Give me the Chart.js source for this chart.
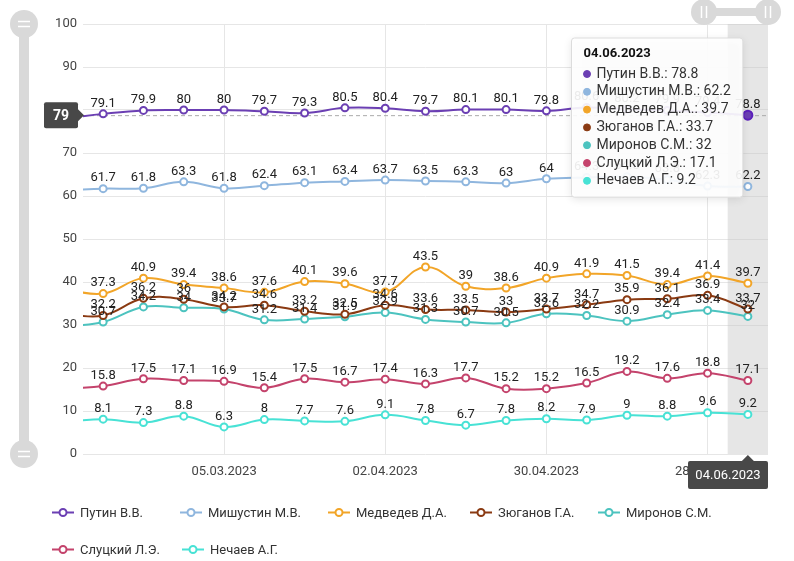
<!DOCTYPE html>
<html>
<head>
<meta charset="utf-8">
<script src="https://cdn.jsdelivr.net/npm/chart.js@4.4.0/dist/chart.umd.min.js"></script>
<style>
  body { margin: 0; background: #fff; font-family: Roboto, sans-serif; }
  #wrap { position: relative; width: 794px; height: 561px; }
  #legend { position: absolute; left: 0; top: 0; width: 794px; height: 561px; pointer-events: none; font-size: 13px; color: #333; }
  .item { position: absolute; display: flex; align-items: center; white-space: nowrap; transform: translateY(-50%); }
  .item svg { margin-right: 6px; }
</style>
</head>
<body>
<div id="wrap">
  <canvas id="chart" width="794" height="561"></canvas>
  <div id="legend"></div>
</div>
<script>
// weekly dates, first one is only partly in view (chart is zoomed)
const dates = ['05.02.2023', '12.02.2023', '19.02.2023', '26.02.2023', '05.03.2023', '12.03.2023',
  '19.03.2023', '26.03.2023', '02.04.2023', '09.04.2023', '16.04.2023', '23.04.2023', '30.04.2023',
  '07.05.2023', '14.05.2023', '21.05.2023', '28.05.2023', '04.06.2023'];
const tickDates = ['05.03.2023', '02.04.2023', '30.04.2023', '28.05.2023'];

const names = ['Путин В.В.', 'Мишустин М.В.', 'Медведев Д.А.', 'Зюганов Г.А.', 'Миронов С.М.', 'Слуцкий Л.Э.', 'Нечаев А.Г.'];
const colors = ['#6b3fb3', '#8fb6de', '#f2a528', '#8a3a12', '#4cc3bf', '#c4436c', '#48e2d5'];

const putin     = [78.0, 79.1, 79.9, 80, 80, 79.7, 79.3, 80.5, 80.4, 79.7, 80.1, 80.1, 79.8, 80.6, 80.2, 79.9, 79.4, 78.8];
const mishustin = [61.3, 61.7, 61.8, 63.3, 61.8, 62.4, 63.1, 63.4, 63.7, 63.5, 63.3, 63, 64, 64.3, 64.5, 63.8, 62.3, 62.2];
const medvedev  = [38.4, 37.3, 40.9, 39.4, 38.6, 37.6, 40.1, 39.6, 37.7, 43.5, 39, 38.6, 40.9, 41.9, 41.5, 39.4, 41.4, 39.7];
const zyuganov  = [32.6, 32.2, 36.2, 36, 34.2, 34.6, 33.2, 32.5, 34.6, 33.6, 33.5, 33, 33.7, 34.7, 35.9, 36.1, 36.9, 33.7];
const mironov   = [29.6, 30.7, 34.2, 34, 33.7, 31.2, 31.4, 31.9, 32.9, 31.3, 30.7, 30.5, 32.6, 32.2, 30.9, 32.4, 33.4, 32];
const slutsky   = [15.1, 15.8, 17.5, 17.1, 16.9, 15.4, 17.5, 16.7, 17.4, 16.3, 17.7, 15.2, 15.2, 16.5, 19.2, 17.6, 18.8, 17.1];
const nechaev   = [7.4, 8.1, 7.3, 8.8, 6.3, 8, 7.7, 7.6, 9.1, 7.8, 6.7, 7.8, 8.2, 7.9, 9, 8.8, 9.6, 9.2];

const series = [putin, mishustin, medvedev, zyuganov, mironov, slutsky, nechaev];
const hoverIndex = dates.indexOf('04.06.2023');

Chart.defaults.font.family = 'Roboto';
Chart.defaults.color = '#444';

// tooltip sits just left of the hovered point, near the top
Chart.Tooltip.positioners.fixedBox = function (items) {
  const a = this.chart.chartArea;
  const px = items.length ? items[0].element.x : a.right;
  return { x: px - 8, y: a.top + 14 };
};

function roundRect(ctx, x, y, w, h, r) {
  ctx.beginPath();
  ctx.moveTo(x + r, y);
  ctx.arcTo(x + w, y, x + w, y + h, r);
  ctx.arcTo(x + w, y + h, x, y + h, r);
  ctx.arcTo(x, y + h, x, y, r);
  ctx.arcTo(x, y, x + w, y, r);
  ctx.closePath();
}

const extras = {
  id: 'extras',
  beforeDatasetsDraw(chart) {
    const { ctx, chartArea: a, scales: { x, y } } = chart;
    ctx.save();
    // hover band
    const x0 = x.getPixelForValue(hoverIndex - 0.5);
    const x1 = Math.min(x.getPixelForValue(hoverIndex + 0.5), a.right);
    ctx.fillStyle = 'rgba(200,200,200,0.45)';
    ctx.fillRect(x0, a.top, x1 - x0, a.bottom - a.top);
    // horizontal crosshair
    const yy = y.getPixelForValue(putin[hoverIndex]);
    ctx.strokeStyle = '#aaa';
    ctx.lineWidth = 1;
    ctx.setLineDash([4, 3]);
    ctx.beginPath();
    ctx.moveTo(a.left, yy + 0.5);
    ctx.lineTo(a.right, yy + 0.5);
    ctx.stroke();
    ctx.restore();
  },
  afterDatasetsDraw(chart) {
    const { ctx, chartArea: a, scales: { x, y } } = chart;
    ctx.save();
    // value labels
    ctx.font = '13px Roboto';
    ctx.fillStyle = '#222';
    ctx.textAlign = 'center';
    ctx.textBaseline = 'bottom';
    chart.data.datasets.forEach((ds, di) => {
      chart.getDatasetMeta(di).data.forEach((pt, i) => {
        if (pt.x < a.left || pt.x > a.right) return;
        ctx.fillText(String(series[di][i]), pt.x, pt.y - 4);
      });
    });

    // y crosshair label
    const yy = y.getPixelForValue(putin[hoverIndex]);
    ctx.fillStyle = '#484848';
    roundRect(ctx, a.left - 39, yy - 13, 34, 26, 2);
    ctx.fill();
    ctx.beginPath();
    ctx.moveTo(a.left - 5, yy - 6);
    ctx.lineTo(a.left + 1, yy);
    ctx.lineTo(a.left - 5, yy + 6);
    ctx.fill();
    ctx.fillStyle = '#fff';
    ctx.font = 'bold 14px Roboto';
    ctx.textBaseline = 'middle';
    ctx.fillText(String(Math.round(putin[hoverIndex])), a.left - 22, yy + 1);

    // x crosshair label
    const px = x.getPixelForValue(hoverIndex);
    const w = 80, h = 28;
    const bx = Math.min(px - w / 2, a.right - w);
    const by = a.bottom + 7;
    ctx.fillStyle = '#484848';
    roundRect(ctx, bx, by, w, h, 2);
    ctx.fill();
    ctx.beginPath();
    ctx.moveTo(px - 6, by);
    ctx.lineTo(px, by - 6);
    ctx.lineTo(px + 6, by);
    ctx.fill();
    ctx.fillStyle = '#fff';
    ctx.font = '13px Roboto';
    ctx.fillText(dates[hoverIndex], bx + w / 2, by + h / 2 + 1);
    ctx.restore();
  },
  afterDraw(chart) {
    const { ctx, chartArea: a } = chart;
    ctx.save();
    ctx.fillStyle = '#d9d9d9';
    // vertical range slider on the left
    ctx.fillRect(19, a.top, 10, a.bottom - a.top);
    [a.top, a.bottom].forEach(cy => {
      ctx.fillStyle = '#d9d9d9';
      ctx.beginPath();
      ctx.arc(24, cy, 14, 0, Math.PI * 2);
      ctx.fill();
      ctx.strokeStyle = '#fff';
      ctx.lineWidth = 1.5;
      ctx.beginPath();
      ctx.moveTo(18, cy - 2.5); ctx.lineTo(30, cy - 2.5);
      ctx.moveTo(18, cy + 2.5); ctx.lineTo(30, cy + 2.5);
      ctx.stroke();
    });
    // horizontal range slider top right
    const hx0 = a.right - 64, hx1 = a.right, hy = 12;
    ctx.fillStyle = '#d9d9d9';
    ctx.fillRect(hx0, hy - 4, hx1 - hx0, 8);
    [hx0, hx1].forEach(cx => {
      ctx.fillStyle = '#d9d9d9';
      ctx.beginPath();
      ctx.arc(cx, hy, 13, 0, Math.PI * 2);
      ctx.fill();
      ctx.strokeStyle = '#fff';
      ctx.lineWidth = 1.5;
      ctx.beginPath();
      ctx.moveTo(cx - 2.5, hy - 6); ctx.lineTo(cx - 2.5, hy + 6);
      ctx.moveTo(cx + 2.5, hy - 6); ctx.lineTo(cx + 2.5, hy + 6);
      ctx.stroke();
    });
    ctx.restore();
  },
  beforeTooltipDraw(chart, args) {
    const t = args.tooltip;
    if (!t.opacity) return;
    const ctx = chart.ctx;
    ctx.save();
    ctx.shadowColor = 'rgba(0,0,0,0.22)';
    ctx.shadowBlur = 8;
    ctx.shadowOffsetY = 2;
    ctx.fillStyle = 'rgba(255,255,255,0.5)';
    roundRect(ctx, t.x, t.y, t.width, t.height, 3);
    ctx.fill();
    ctx.restore();
  }
};

const chart = new Chart(document.getElementById('chart'), {
  type: 'line',
  data: {
    datasets: series.map((vals, i) => ({
      label: names[i],
      data: vals.map((v, j) => ({ x: j, y: v })),
      borderColor: colors[i],
      backgroundColor: colors[i],
      borderWidth: 2,
      tension: 0.4,
      pointRadius: 3.5,
      pointBorderWidth: 2,
      pointBackgroundColor: '#fff',
      pointHoverRadius: 4.5,
      pointHoverBorderWidth: 2,
      pointHoverBackgroundColor: colors[i]
    }))
  },
  options: {
    responsive: false,
    animation: false,
    events: [],
    layout: { padding: { top: 24, right: 26, bottom: 77, left: 0 } },
    scales: {
      x: {
        type: 'linear',
        min: 0.5,
        max: dates.length - 0.5,
        afterBuildTicks(s) { s.ticks = tickDates.map(d => ({ value: dates.indexOf(d) })); },
        afterFit(s) { s.height = 30; },
        ticks: { callback: v => dates[v], padding: 10, maxRotation: 0, autoSkip: false, font: { size: 13 }, color: '#444' },
        grid: { color: '#e6e6e6', drawTicks: false },
        border: { display: false }
      },
      y: {
        min: 0,
        max: 100,
        afterFit(s) { s.width = 83; },
        ticks: { stepSize: 10, padding: 6, font: { size: 13 }, color: '#444' },
        grid: { color: '#e6e6e6', drawTicks: false },
        border: { display: false }
      }
    },
    plugins: {
      legend: { display: false },
      tooltip: {
        position: 'fixedBox',
        xAlign: 'right',
        yAlign: 'top',
        caretSize: 0,
        caretPadding: 0,
        backgroundColor: 'rgba(255,255,255,0.82)',
        borderColor: '#dcdcdc',
        borderWidth: 1,
        cornerRadius: 3,
        titleColor: '#111',
        titleFont: { size: 13, weight: 'bold' },
        bodyColor: '#333',
        bodyFont: { size: 14 },
        padding: { top: 8, left: 12, right: 12, bottom: 8 },
        titleMarginBottom: 4,
        bodySpacing: 1,
        usePointStyle: true,
        boxWidth: 7,
        boxHeight: 7,
        boxPadding: 4,
        callbacks: {
          title: items => dates[items[0].parsed.x],
          label: item => item.dataset.label + ': ' + item.parsed.y,
          labelColor: item => ({ borderColor: item.dataset.borderColor, backgroundColor: item.dataset.borderColor, borderWidth: 0 }),
          labelPointStyle: () => ({ pointStyle: 'circle', rotation: 0 })
        }
      }
    }
  },
  plugins: [extras]
});

chart.setActiveElements([{ datasetIndex: 0, index: hoverIndex }]);
chart.tooltip.setActiveElements(series.map((s, i) => ({ datasetIndex: i, index: hoverIndex })),
  { x: chart.scales.x.getPixelForValue(hoverIndex), y: chart.scales.y.getPixelForValue(putin[hoverIndex]) });
chart.update();

// legend
const legendPos = [[52, 512], [180, 512], [328, 512], [470, 512], [598, 512], [52, 549], [182, 549]];
const legend = document.getElementById('legend');
names.forEach((n, i) => {
  const d = document.createElement('div');
  d.className = 'item';
  d.style.left = legendPos[i][0] + 'px';
  d.style.top = legendPos[i][1] + 'px';
  d.innerHTML = '<svg width="22" height="10"><line x1="0" y1="5" x2="22" y2="5" stroke="' + colors[i] +
    '" stroke-width="2"/><circle cx="11" cy="5" r="3.5" fill="#fff" stroke="' + colors[i] + '" stroke-width="2"/></svg>' +
    '<span>' + n + '</span>';
  legend.appendChild(d);
});
</script>
</body>
</html>
